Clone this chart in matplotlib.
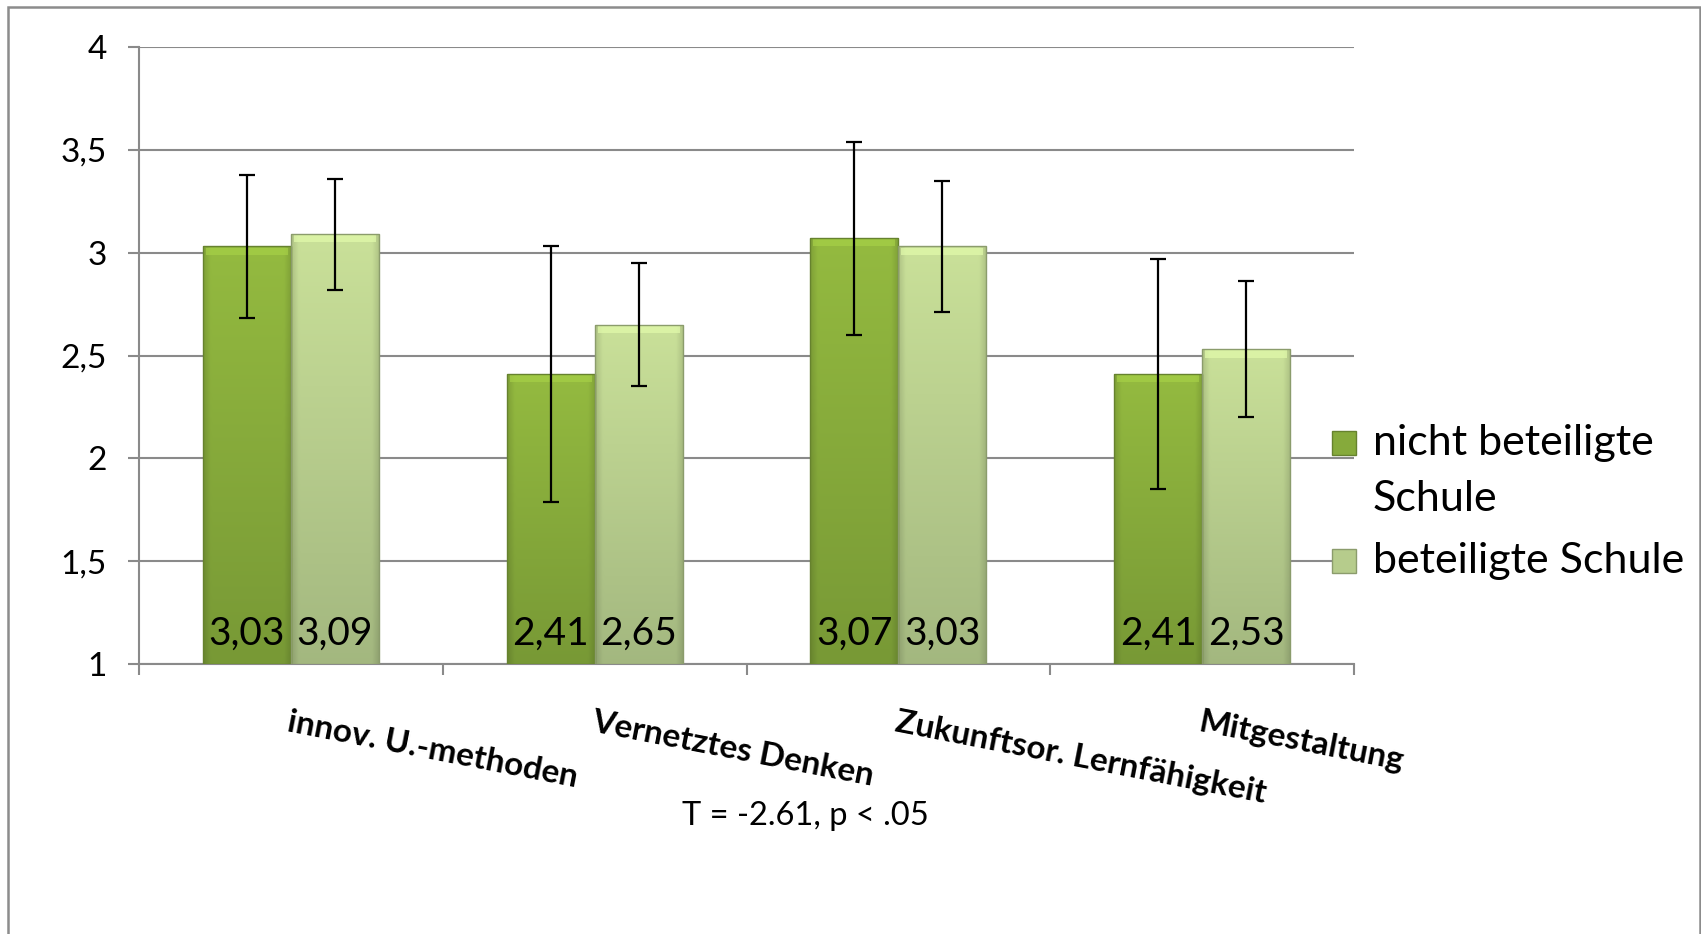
import numpy as np
import matplotlib.pyplot as plt
from matplotlib.patches import Rectangle

categories = ["innov. U.-methoden", "Vernetztes Denken", "Zukunftsor. Lernfähigkeit", "Mitgestaltung"]
series_names = ["nicht beteiligte\nSchule", "beteiligte Schule"]
nicht = [3.03, 2.41, 3.07, 2.41]
beteiligt = [3.09, 2.65, 3.03, 2.53]
nicht_err = [0.35, 0.62, 0.47, 0.56]
beteiligt_err = [0.27, 0.30, 0.32, 0.33]
value_labels_nicht = ["3,03", "2,41", "3,07", "2,41"]
value_labels_bet = ["3,09", "2,65", "3,03", "2,53"]
yticks = [1, 1.5, 2, 2.5, 3, 3.5, 4]
ytick_labels = ["1", "1,5", "2", "2,5", "3", "3,5", "4"]
note = "T = -2.61, p < .05"

plt.rcParams['font.family'] = ['Lato', 'DejaVu Sans']

W, H = 1701, 934
fig = plt.figure(figsize=(W/100, H/100), dpi=100)
ax = fig.add_axes([139/W, 1-664/H, (1354-139)/W, (664-47)/H])

dark_top = np.array([0.58, 0.73, 0.25])
dark_bot = np.array([0.47, 0.60, 0.21])
light_top = np.array([0.79, 0.88, 0.60])
light_bot = np.array([0.64, 0.72, 0.50])

def gradient_img(top, bot):
    ny, nx = 100, 40
    t = np.linspace(0, 1, ny)[:, None, None]
    img = top*(1-t) + bot*t
    img = np.repeat(img, nx, axis=1)
    xs = np.linspace(0, 1, nx)
    edge = np.clip(np.minimum(xs, 1-xs)/0.08, 0, 1)
    shade = 0.88 + 0.12*edge
    img = img*shade[None, :, None]
    return np.clip(img, 0, 1)

x = np.arange(len(categories))
w = 0.29
off = 0.145
groups = [(nicht, nicht_err, value_labels_nicht, dark_top, dark_bot, -off),
          (beteiligt, beteiligt_err, value_labels_bet, light_top, light_bot, off)]

for vals, errs, labs, top, bot, o in groups:
    bars = ax.bar(x+o, np.array(vals)-1, w, bottom=1, color=top, edgecolor='none', zorder=2)
    img = gradient_img(top, bot)
    for b, lab in zip(bars, labs):
        x0 = b.get_x()
        x1 = x0 + b.get_width()
        y1 = b.get_y() + b.get_height()
        im = ax.imshow(img, extent=[x0, x1, 1, y1], aspect='auto', zorder=3, interpolation='bilinear')
        im.set_clip_path(b)
        # bevel on top
        ax.add_patch(Rectangle((x0+0.01, y1-0.04), b.get_width()-0.02, 0.035,
                               facecolor=np.clip(top*1.12, 0, 1), edgecolor='none', alpha=0.7, zorder=4))
        ax.add_patch(Rectangle((x0, 1), b.get_width(), y1-1, facecolor='none',
                               edgecolor=bot*0.85, lw=1.0, zorder=4))
        ax.text(b.get_x()+b.get_width()/2, 1.06, lab, ha='center', va='bottom',
                fontsize=28, color='black', zorder=6)
    ax.errorbar(x+o, vals, yerr=errs, fmt='none', ecolor='black', elinewidth=1.6,
                capsize=6, capthick=1.6, zorder=5)

ax.set_xlim(-0.5, 3.5)
ax.set_ylim(1, 4)
ax.set_yticks(yticks)
ax.set_yticklabels(ytick_labels)
ax.set_xticks(np.arange(-0.5, 4, 1))
ax.set_xticklabels([])
ax.tick_params(axis='y', length=8, width=1.5, color='#8a8a8a', labelsize=24, pad=15)
ax.tick_params(axis='x', length=8, width=1.5, color='#8a8a8a')
ax.grid(axis='y', color='#8a8a8a', lw=1.5, zorder=0)
ax.set_axisbelow(True)
for s in ['top', 'right']:
    ax.spines[s].set_visible(False)
for s in ['left', 'bottom']:
    ax.spines[s].set_color('#8a8a8a')
    ax.spines[s].set_linewidth(1.5)

for i, c in enumerate(categories):
    ax.annotate(c, xy=(i, 0), xycoords=('data', 'axes fraction'), xytext=(0, -31),
                textcoords='offset points', rotation=-11, rotation_mode='anchor',
                ha='left', va='top', fontsize=24, fontweight='bold', annotation_clip=False)

fig.text(805/W, 1-816/H, note, ha='center', va='center', fontsize=23.5)

# legend
leg_cols = [(dark_top, dark_bot), (light_top, light_bot)]
marker_y = [443, 561]
for (top, bot), my in zip(leg_cols, marker_y):
    fig.patches.append(Rectangle((1332/W, 1-(my+12)/H), 24/W, 24/H, transform=fig.transFigure,
                                 facecolor=(top+bot)/2, edgecolor=bot*0.85, lw=1.0))
fig.text(1373/W, 1-443/H, "nicht beteiligte", ha='left', va='center', fontsize=31)
fig.text(1373/W, 1-499/H, "Schule", ha='left', va='center', fontsize=31)
fig.text(1373/W, 1-561/H, "beteiligte Schule", ha='left', va='center', fontsize=31)

# outer frame
fig.patches.append(Rectangle((8/W, -0.05), (1700-8)/W, 1.05-7/H, transform=fig.transFigure,
                             facecolor='none', edgecolor='#8c8c8c', lw=1.8))

fig.savefig("out.png", dpi=100)
